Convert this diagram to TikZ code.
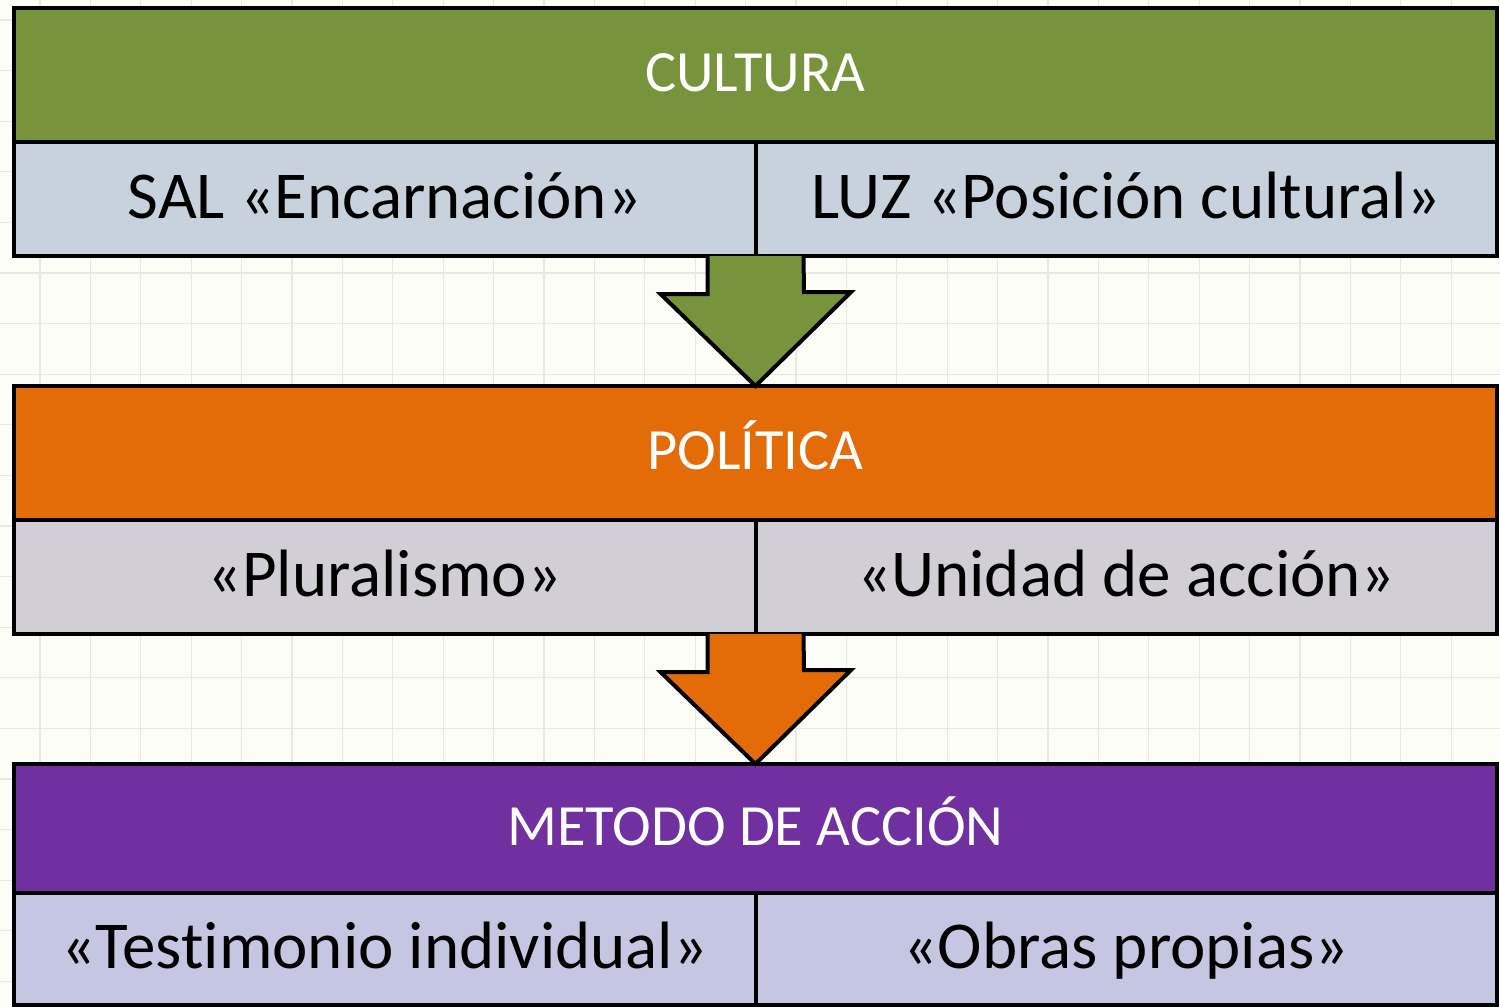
\documentclass[tikz,border=0pt]{standalone}
\usepackage{fontspec}
\setmainfont[Ligatures=NoCommon]{Carlito}
\definecolor{bgc}{HTML}{FDFDF8}
\definecolor{gridc}{HTML}{E9E9E4}
\definecolor{cgreen}{HTML}{77933C}
\definecolor{corange}{HTML}{E36C09}
\definecolor{cpurple}{HTML}{7030A0}
\definecolor{sgreen}{HTML}{C8D2DC}
\definecolor{sorange}{HTML}{D2CED6}
\definecolor{spurple}{HTML}{C5C6E2}
\begin{document}
\begin{tikzpicture}[x=0.5pt,y=-0.5pt,
  box/.style={draw=black,line width=2pt,inner sep=0pt,outer sep=0pt,anchor=north west},
  head/.style={box,minimum width=741.5pt,minimum height=67pt,text=white,font=\fontsize{29.2}{34}\selectfont,text height=18.7pt,text depth=2pt},
  sub/.style={box,minimum width=370.75pt,minimum height=57pt,text=black,font=\fontsize{33.5}{40}\selectfont,text height=21.4pt,text depth=2.4pt},
  bigarrow/.style={draw=black,line width=2pt,line join=miter}]
\fill[bgc] (0,0) rectangle (1500,1007);
\useasboundingbox (0,0) rectangle (1500,1007);
\foreach \i in {0,...,30} {\draw[gridc,line width=0.6pt] ({40+50.4*\i-50.4},0) -- ({40+50.4*\i-50.4},1007);}
\foreach \i in {0,...,20} {\draw[gridc,line width=0.6pt] (0,{20+50.6*\i}) -- (1500,{20+50.6*\i});}
% level 1
\node[head,fill=cgreen] (cult) at (14,8) {CULTURA};
\node[sub,fill=sgreen] (sal) at (14,142) {SAL «Encarnación»};
\node[sub,fill=sgreen] (luz) at (755.5,142) {LUZ «Posición cultural»};
% level 2
\node[head,fill=corange] (pol) at (14,386) {POLÍTICA};
\node[sub,fill=sorange] (plu) at (14,520) {«Pluralismo»};
\node[sub,fill=sorange] (uni) at (755.5,520) {«Unidad de acción»};
% level 3
\node[head,fill=cpurple,minimum height=64.5pt] (met) at (14,764) {METODO DE ACCIÓN};
\node[sub,fill=spurple,minimum height=56pt] (tes) at (14,893) {«Testimonio individual»};
\node[sub,fill=spurple,minimum height=56pt] (obr) at (755.5,893) {«Obras propias»};
% arrows
\draw[bigarrow,fill=cgreen] ([xshift=-24pt]sal.south east) -- ++(0,38) -- ++(-47,0) -- (pol.north) -- ++(95.5,-94) -- ++(-47,0) -- ([xshift=24pt]sal.south east) ;
\draw[bigarrow,fill=corange] ([xshift=-24pt]plu.south east) -- ++(0,38) -- ++(-47,0) -- (met.north) -- ++(95.5,-94) -- ++(-47,0) -- ([xshift=24pt]plu.south east) ;
\end{tikzpicture}
\end{document}
